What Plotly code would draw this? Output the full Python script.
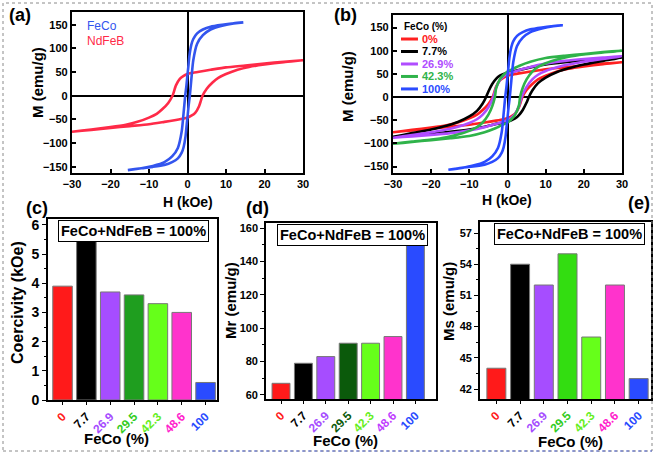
import plotly.graph_objects as go

# ---------------- data ----------------
# Panel (a)/(b) hysteresis loops: upper branch (field decreasing) and lower branch (field increasing)
ndfeb_H_up = [30, 25, 20, 15, 10, 6, 3, 1, 0, -1, -2, -3, -3.9, -5, -6.5, -8, -10, -13, -16, -20, -25, -30]
ndfeb_M_up = [75, 72, 68, 64, 60, 55, 51, 48, 46, 42, 36, 22, 0, -15, -28, -38, -46, -55, -61, -66, -71, -76]
ndfeb_H_lo = [-30, -25, -20, -15, -10, -6, -3, -1, 0, 1, 2, 3, 3.9, 5, 6.5, 8, 10, 13, 16, 20, 25, 30]
ndfeb_M_lo = [-76, -72, -68, -64, -60, -55, -51, -48, -46, -42, -36, -22, 0, 15, 28, 38, 46, 55, 61, 66, 71, 75]

feco_H_up = [14.5, 12, 9, 6, 4, 2.5, 1.5, 1, 0.5, 0.2, 0, -0.3, -0.6, -1, -1.5, -2.5, -4, -6, -9, -12, -15.5]
feco_M_up = [155, 153, 150, 146, 140, 132, 120, 108, 85, 60, 45, 20, 0, -35, -75, -110, -128, -140, -148, -153, -157]
feco_H_lo = [-15.5, -12, -9, -6, -4, -2.5, -1.5, -1, -0.5, -0.2, 0, 0.3, 0.6, 1, 1.5, 2.5, 4, 6, 9, 12, 14.5]
feco_M_lo = [-157, -153, -150, -146, -140, -132, -120, -108, -85, -60, -45, -20, 0, 35, 75, 110, 128, 140, 148, 153, 155]

s77_H_up = [30, 25, 20, 15, 10, 6, 3, 1, 0, -1, -2, -3, -4, -5, -5.6, -6.5, -8, -10, -13, -16, -20, -25, -30]
s77_M_up = [85, 82, 79, 75, 70, 64, 58, 55, 53, 50, 46, 39, 28, 12, 0, -14, -30, -42, -54, -62, -70, -78, -86]
s77_H_lo = [-30, -25, -20, -15, -10, -6, -3, -1, 0, 1, 2, 3, 4, 5, 5.6, 6.5, 8, 10, 13, 16, 20, 25, 30]
s77_M_lo = [-86, -82, -79, -75, -70, -64, -58, -55, -53, -50, -46, -39, -28, -12, 0, 14, 30, 42, 54, 62, 70, 78, 85]

s269_H_up = [30, 25, 20, 15, 10, 6, 3, 1, 0, -1, -2, -3, -3.7, -5, -6.5, -8, -10, -13, -16, -20, -25, -30]
s269_M_up = [88, 85, 82, 78, 72, 65, 58, 53, 50, 45, 36, 20, 0, -22, -38, -48, -56, -64, -70, -76, -82, -88]
s269_H_lo = [-30, -25, -20, -15, -10, -6, -3, -1, 0, 1, 2, 3, 3.7, 5, 6.5, 8, 10, 13, 16, 20, 25, 30]
s269_M_lo = [-88, -85, -82, -78, -72, -65, -58, -53, -50, -45, -36, -20, 0, 22, 38, 48, 56, 64, 70, 76, 82, 88]

s423_H_up = [30, 25, 20, 15, 10, 6, 3, 1, 0, -1, -2, -3, -3.3, -4, -5, -6.5, -8, -10, -13, -16, -20, -25, -30]
s423_M_up = [100, 97, 93, 89, 84, 76, 67, 59, 55, 48, 38, 18, 0, -20, -38, -55, -65, -73, -81, -87, -92, -96, -101]
s423_H_lo = [-30, -25, -20, -15, -10, -6, -3, -1, 0, 1, 2, 3, 3.3, 4, 5, 6.5, 8, 10, 13, 16, 20, 25, 30]
s423_M_lo = [-101, -97, -93, -89, -84, -76, -67, -59, -55, -48, -38, -18, 0, 20, 38, 55, 65, 73, 81, 87, 92, 96, 100]

# Panels (c)-(e) bars
categories = ['0', '7.7', '26.9', '29.5', '42.3', '48.6', '100']
coercivity = [3.9, 5.6, 3.7, 3.6, 3.3, 3.0, 0.6]
mr_values = [67, 79, 83, 91, 91, 95, 152]
ms_values = [44, 54, 52, 55, 47, 52, 43]

# ---------------- styling ----------------
FONT = "Liberation Sans"
W, H = 655, 454

def dx(px0, px1):
    return [px0 / W, px1 / W]

def dy(py_top, py_bot):
    return [1 - py_bot / H, 1 - py_top / H]

fig = go.Figure()

def loop(Hu, Mu, Hl, Ml, color, xa, ya, width=2.6):
    fig.add_trace(go.Scatter(x=Hu + Hl, y=Mu + Ml, mode='lines',
                             line=dict(color=color, width=width, shape='spline', smoothing=0.6),
                             xaxis=xa, yaxis=ya, showlegend=False, hoverinfo='skip'))

loop(ndfeb_H_up, ndfeb_M_up, ndfeb_H_lo, ndfeb_M_lo, '#ff2a48', 'x', 'y')
loop(feco_H_up, feco_M_up, feco_H_lo, feco_M_lo, '#3355ee', 'x', 'y')

loop(ndfeb_H_up, ndfeb_M_up, ndfeb_H_lo, ndfeb_M_lo, '#ff2020', 'x2', 'y2')
loop(s77_H_up, s77_M_up, s77_H_lo, s77_M_lo, '#000000', 'x2', 'y2')
loop(s269_H_up, s269_M_up, s269_H_lo, s269_M_lo, '#b04dff', 'x2', 'y2')
loop(s423_H_up, s423_M_up, s423_H_lo, s423_M_lo, '#2fb34a', 'x2', 'y2')
loop(feco_H_up, feco_M_up, feco_H_lo, feco_M_lo, '#2a4bff', 'x2', 'y2')

bar_c_colors = ['#ff1a1a', '#000000', '#a64dff', '#1f9e1f', '#66ff1a', '#ff33cc', '#2a4bff']
bar_d_colors = ['#ff1a1a', '#000000', '#a64dff', '#0b5a0b', '#66ff1a', '#ff33cc', '#2a4bff']
bar_e_colors = ['#ff1a1a', '#000000', '#a64dff', '#33dd11', '#66ff1a', '#ff33cc', '#2a4bff']
tick_c_colors = ['#ff1a1a', '#000000', '#a64dff', '#33cc22', '#66ee22', '#ff22cc', '#2a4bff']
tick_d_colors = ['#ff1a1a', '#000000', '#a64dff', '#0b5a0b', '#66ee22', '#c040ff', '#2a4bff']
tick_e_colors = ['#ff1a1a', '#000000', '#a64dff', '#33cc22', '#66ee22', '#ff22cc', '#2a4bff']

for vals, cols, xa, ya, wd in [(coercivity, bar_c_colors, 'x3', 'y3', 0.82),
                               (mr_values, bar_d_colors, 'x4', 'y4', 0.8),
                               (ms_values, bar_e_colors, 'x5', 'y5', 0.8)]:
    fig.add_trace(go.Bar(x=categories, y=vals, width=wd, xaxis=xa, yaxis=ya,
                         marker=dict(color=cols, line=dict(color='#777777', width=1)),
                         showlegend=False, hoverinfo='skip'))

def ctext(colors):
    return [f"<span style='color:{c}'>{t}</span>" for c, t in zip(colors, categories)]

hyst_x = dict(range=[-30, 30], tickvals=[-30, -20, -10, 0, 10, 20, 30], ticks='inside', ticklen=4,
              tickwidth=1.5, tickcolor='black', showline=True, mirror=True, linewidth=2.2,
              linecolor='black', zeroline=True, zerolinecolor='black', zerolinewidth=2,
              showgrid=False, tickfont=dict(family=FONT, size=11, weight='bold', color='black'),
              automargin=False)
hyst_y = dict(tickvals=[-150, -100, -50, 0, 50, 100, 150], ticks='inside', ticklen=4,
              tickwidth=1.5, tickcolor='black', showline=True, mirror=True, linewidth=2.2,
              linecolor='black', zeroline=True, zerolinecolor='black', zerolinewidth=2,
              showgrid=False, tickfont=dict(family=FONT, size=11, weight='bold', color='black'),
              automargin=False)

def bar_x(rng, colors, anchor, dom):
    return dict(type='category', categoryorder='array', categoryarray=categories, range=rng,
                tickvals=categories, ticktext=ctext(colors), tickangle=-45, ticks='outside',
                ticklen=3, tickwidth=1.2, tickcolor='black', showline=True, mirror=True,
                linewidth=1.6, linecolor='black', showgrid=False, zeroline=False,
                tickfont=dict(family=FONT, size=12, weight='bold'), anchor=anchor, domain=dom,
                automargin=False)

def bar_y(rng, tv, minor_dt, size, anchor, dom):
    return dict(range=rng, tickvals=tv, ticks='outside', ticklen=4, tickwidth=1.2, tickcolor='black',
                minor=dict(dtick=minor_dt, ticks='outside', ticklen=2, tickcolor='black', showgrid=False),
                showline=True, mirror=True, linewidth=1.6, linecolor='black', showgrid=False,
                zeroline=False, tickfont=dict(family=FONT, size=size, weight='bold', color='black'),
                anchor=anchor, domain=dom, automargin=False)

fig.update_layout(
    width=W, height=H, autosize=False,
    margin=dict(l=0, r=0, t=0, b=0),
    paper_bgcolor='white', plot_bgcolor='white',
    font=dict(family=FONT, color='black'),
    xaxis=dict(**hyst_x, domain=dx(72, 303), anchor='y'),
    yaxis=dict(**hyst_y, range=[-163, 177], domain=dy(12, 173), anchor='x'),
    xaxis2=dict(**hyst_x, domain=dx(393, 622), anchor='y2'),
    yaxis2=dict(**hyst_y, range=[-164, 177], domain=dy(15, 173), anchor='x2'),
    xaxis3=bar_x([-0.61, 6.48], tick_c_colors, 'y3', dx(48, 217)),
    yaxis3=bar_y([0, 6.2], [0, 1, 2, 3, 4, 5, 6], 0.5, 14, 'x3', dy(219, 400)),
    xaxis4=bar_x([-0.67, 6.92], tick_d_colors, 'y4', dx(266, 436)),
    yaxis4=bar_y([57.6, 163], [60, 80, 100, 120, 140, 160], 10, 11, 'x4', dy(223, 399)),
    xaxis5=bar_x([-0.69, 6.52], tick_e_colors, 'y5', dx(480, 651)),
    yaxis5=bar_y([41.04, 58.06], [42, 45, 48, 51, 54, 57], 1.5, 11, 'x5', dy(222, 399)),
)

ann = []
def A(text, x, y, size, xref='paper', yref='paper', angle=0, color='black', bold=True,
      xanchor='center', yanchor='middle', **kw):
    ann.append(dict(text=text, x=x, y=y, xref=xref, yref=yref, showarrow=False, textangle=angle,
                    xanchor=xanchor, yanchor=yanchor,
                    font=dict(family=FONT, size=size, color=color, weight='bold' if bold else 'normal'),
                    **kw))

def P(px, py):
    return px / W, 1 - py / H

for t, (px, py) in [('(a)', (20, 15)), ('(b)', (346, 15)), ('(c)', (37, 208)),
                    ('(d)', (257, 208)), ('(e)', (639, 203))]:
    x, y = P(px, py)
    A(t, x, y, 18)

for t, (px, py), ang, sz in [('M (emu/g)', (38, 83), -90, 15), ('H (kOe)', (188, 202), 0, 14),
                             ('M (emu/g)', (347, 87), -90, 15), ('H (kOe)', (507, 200), 0, 14),
                             ('Coercivity (kOe)', (17, 303), -90, 16), ('FeCo (%)', (117, 438), 0, 15),
                             ('Mr (emu/g)', (230, 300), -90, 15), ('FeCo (%)', (345, 440), 0, 15),
                             ('Ms (emu/g)', (448, 302), -90, 15), ('FeCo (%)', (570, 441), 0, 15)]:
    x, y = P(px, py)
    A(t, x, y, sz, angle=ang)

A('FeCo', 0.056, 0.913, 12, xref='x domain', yref='y domain', color='#3355ee', bold=False, xanchor='left')
A('NdFeB', 0.056, 0.820, 12, xref='x domain', yref='y domain', color='#ff2a48', bold=False, xanchor='left')

A('FeCo (%)', 0.039, 0.930, 10, xref='x2 domain', yref='y2 domain', xanchor='left')
leg_items = [('0%', '#ff2020'), ('7.7%', '#000000'), ('26.9%', '#b04dff'),
             ('42.3%', '#2fb34a'), ('100%', '#2a4bff')]
leg_y = [0.848, 0.769, 0.690, 0.611, 0.532]
shapes = []
for (lab, col), yy in zip(leg_items, leg_y):
    A(lab, 0.118, yy, 11, xref='x2 domain', yref='y2 domain', color=col, xanchor='left')
    shapes.append(dict(type='line', xref='x2 domain', yref='y2 domain', x0=0.035, x1=0.109,
                       y0=yy, y1=yy, line=dict(color=col, width=3)))

for xa, ya, xc in [('x3', 'y3', 0.503), ('x4', 'y4', 0.506), ('x5', 'y5', 0.523)]:
    A('FeCo+NdFeB = 100%', xc, 0.995, 14.5, xref=f'{xa} domain', yref=f'{ya} domain',
      yanchor='top', bgcolor='white', bordercolor='black', borderwidth=1, borderpad=2)

shapes.append(dict(type='rect', xref='paper', yref='paper', x0=3 / W, x1=652 / W, y0=1 - 451 / H,
                   y1=1 - 3 / H, line=dict(color='#8a8a8a', width=1, dash='dot')))
shapes.append(dict(type='line', xref='paper', yref='paper', x0=212 / W, x1=652 / W, y0=1 - 451 / H,
                   y1=1 - 451 / H, line=dict(color='#5566cc', width=1, dash='dot')))

fig.update_layout(annotations=ann, shapes=shapes)
fig.write_html("out.html", config={'displayModeBar': False},
               post_script="document.body.style.margin='0px';document.body.style.overflow='hidden';")
